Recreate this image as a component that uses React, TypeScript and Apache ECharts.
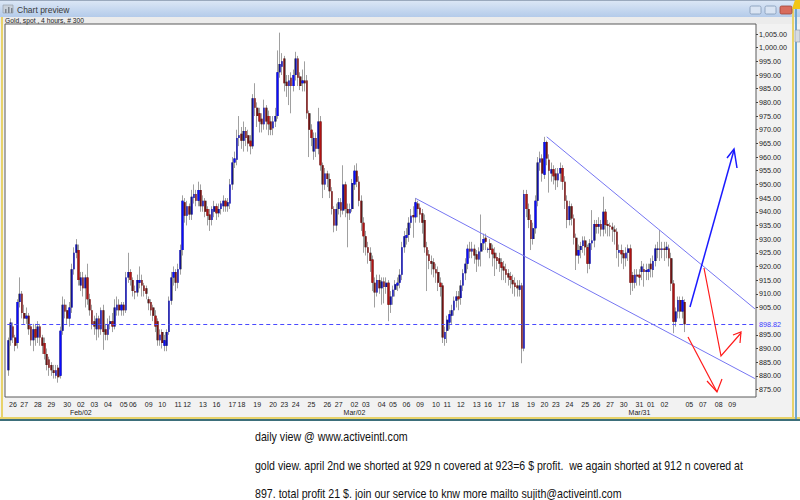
import React, { useEffect, useRef } from 'react';
import * as echarts from 'echarts';

// ---- Data (Gold spot, 4-hour bars) ----
const opens = [
  882, 893, 898, 894, 892, 907, 910, 903, 901, 902,
  898, 893, 897, 894, 898, 894, 892, 888, 886, 884,
  882, 880, 883, 880, 896.5, 906, 904, 901, 905, 919,
  925, 926, 913, 916, 912, 916, 908, 904, 900, 897,
  901, 897, 904, 897, 895, 899, 900, 898, 904, 906,
  904, 906, 904, 916, 918, 915, 911, 910.5, 914, 915,
  913, 912, 908, 907, 905, 902, 900, 893, 896, 891,
  891, 896, 907.5, 916, 918, 914, 919, 926, 943.5, 938.5,
  942, 939, 945, 946.5, 944, 948, 942, 944, 941, 939,
  937, 940, 942, 939.5, 941, 942, 944, 942, 943, 950,
  958, 959, 967, 968.5, 966, 969.5, 968, 966, 964, 981.5,
  978, 976, 974, 972, 978, 975, 973, 970.5, 973, 975,
  991, 993, 996, 987.5, 986, 989, 986, 990, 996, 989.5,
  987, 988, 988, 976, 970, 962, 967, 963, 973, 957,
  950, 954, 952, 947.5, 941, 935, 941, 943.5, 940.5, 950,
  941, 939.5, 941, 950, 955, 951, 944, 936, 931, 927,
  925, 922.5, 914, 910.5, 915, 912, 914.5, 912.5, 914, 906,
  909, 911.5, 913, 914, 917, 927, 930.5, 931.5, 936, 938.8,
  938, 943, 941.5, 939.5, 937, 927, 924.5, 922, 921.5, 919,
  918, 914, 913, 893.5, 896.5, 899.5, 902, 904, 907.5, 909,
  908.5, 913, 917.5, 921, 926.5, 925.5, 926.5, 924.5, 922.5, 925.5,
  928.5, 930.5, 926, 928.5, 926.5, 925, 923.5, 923, 921.5, 920,
  919, 917.5, 916.5, 915, 914, 913, 911.5, 913, 890, 946.5,
  941, 937, 930, 934, 944, 958, 959.5, 953.5, 965.5, 959,
  954, 955.5, 954, 951.5, 954, 956, 951, 944, 937, 942,
  937.5, 930.5, 924, 926, 927.5, 929.5, 927, 921, 928.5, 929.5,
  935.5, 934.5, 935.5, 933.5, 940, 935.5, 935, 934.5, 933.5, 932.7,
  925, 926, 924.8, 923, 925, 926.6, 916.9, 914, 917, 917,
  918, 919, 918, 918, 921, 918.7, 922, 926, 926.6, 926,
  926.6, 926, 926.6, 923, 913.8, 899.8, 903.5, 907.7, 903.5, 907,
];
const closes = [
  893, 899.5, 894, 891, 907, 910, 903, 901, 902, 897,
  893, 897, 894, 898, 894, 891, 888, 884, 883, 882,
  881, 882, 879.5, 896.5, 906, 903.5, 901, 905, 919, 925,
  928, 915, 916, 912, 916, 908, 904, 899, 898, 901,
  897, 904, 896, 895, 899, 900, 898, 905, 906, 904,
  906, 904, 916, 918, 915, 911, 910.5, 915, 915, 913,
  911, 910, 906.5, 904, 902, 898, 893, 895, 892, 893,
  896, 907.5, 916, 918, 914, 919, 926, 944, 938.5, 942,
  939, 945.5, 946.5, 944, 948, 942, 944, 940, 938.5, 937,
  941, 942, 939.5, 941, 943, 944, 942, 943.5, 950, 958,
  959.5, 967, 968, 966, 969.5, 967, 965, 964, 981.5, 978,
  975, 973, 972, 978, 973, 972, 970, 973, 975, 991,
  994, 995, 987, 986, 988, 986, 990, 996, 989, 986,
  988, 987, 976, 970, 967, 967, 963, 973, 957, 950,
  954, 952, 947.5, 941, 935, 941, 943.5, 940.5, 950, 941,
  939.5, 941, 950.5, 955, 951, 944, 936, 931, 927, 925,
  922, 914, 910.5, 915, 912, 914.5, 912.5, 914, 906, 909,
  911.5, 913.5, 914, 917, 927, 931, 931.5, 936, 938.5, 938,
  943.5, 941, 939, 936, 927, 924, 922, 921, 919, 917.5,
  914, 912.5, 894, 896, 900.5, 902.5, 904, 907.5, 909, 908,
  913, 917.5, 921, 926.5, 925.5, 926.5, 924, 922.5, 925.5, 928.5,
  930, 929, 926.5, 926, 924.5, 923, 922, 921, 919.5, 918.5,
  917, 916, 915, 913.5, 912.5, 912, 913, 890, 946.5, 941,
  937, 930, 934, 944, 958, 959.5, 954, 965.5, 959.5, 955,
  955.5, 953, 951.5, 954, 956, 951, 944, 937, 942, 937.5,
  930.5, 924, 926, 927.5, 929.5, 927, 921, 928.5, 929.5, 935.5,
  934.5, 935.5, 933.5, 940, 935.2, 934.8, 934.5, 933.5, 932.7, 926,
  926, 924.5, 923, 925, 926.6, 914, 914, 917, 916.3, 916,
  920, 918, 918.7, 919, 919, 922, 926.6, 926.6, 926, 926.6,
  926, 927.2, 923, 913.8, 899.8, 903.5, 907.7, 903.5, 907.7, 898.82,
];
const lows = [
  880, 891, 892, 889, 890, 905, 901, 899, 899, 895,
  891, 889, 891, 892, 891, 888, 886, 882, 880, 880,
  879, 879, 877.5, 879, 895, 901, 899, 898, 903, 917,
  923, 913, 911, 909, 905, 906, 902, 897, 895, 893,
  894, 895, 889.5, 893, 893, 897, 896, 897, 902, 902,
  902, 902, 903, 914, 913, 909, 908, 909, 912, 909,
  909, 908, 904, 902, 900, 896, 891, 891, 890, 889,
  889, 895, 906, 913, 911, 912, 917, 924, 936, 935,
  937, 937, 943, 942, 942, 940, 940, 938, 935, 933,
  935, 938, 937, 938, 939, 940, 940, 940, 941, 948,
  956, 957, 964, 963, 962, 964, 962, 961, 963, 975,
  971, 969, 969, 970, 970, 968, 968, 968, 971, 974,
  989, 990, 984, 982, 979, 976, 984, 988, 986, 984.5,
  984, 984, 974, 960, 964, 959, 960, 961, 955, 945,
  948, 949, 945, 939, 932.5, 933, 939, 938, 939, 938,
  927, 937, 940, 948, 949, 942, 933, 925, 924, 921,
  918, 911, 905, 909, 910, 906, 906.5, 910, 900, 903,
  906, 909, 911, 912, 915, 925, 928, 929, 934, 930.5,
  936, 938, 936, 932, 925, 911, 919, 917, 916, 914,
  911, 909, 892, 891, 892, 897, 899, 902, 905, 904,
  906, 911, 915, 919, 923, 923, 921, 918, 920, 920,
  926, 926, 925, 923, 920, 916.5, 919, 918, 915, 915,
  914, 913, 912, 910, 909, 909, 909, 884.6, 889, 938,
  934, 926, 928, 932, 942, 955, 951, 952, 957, 947,
  951, 950, 948, 949, 951, 948, 941, 934, 935, 935,
  928, 918.7, 921, 923, 925, 924, 917.5, 919, 926, 927,
  932, 932, 931, 931, 932, 931, 931, 929, 928, 923,
  919.9, 921, 919, 920, 922, 909.6, 911, 912, 913, 913,
  915, 912.6, 915, 915, 916, 916, 920, 923, 922, 923,
  922, 923, 920, 911, 895.6, 898, 901, 901, 901, 896,
];
const highs = [
  894, 901, 899.5, 895, 908, 916, 911, 906, 905, 903,
  899, 899, 899, 900, 899, 895, 894, 890, 887, 885,
  884, 884, 884, 898, 909, 908, 906, 907, 921, 927,
  930, 928, 918, 918, 917, 921, 910, 906, 902, 903,
  902, 905, 906, 899, 901, 902, 903, 908, 909, 908,
  907, 907, 918, 925, 919, 916, 913, 917, 920, 917,
  914, 913, 909, 908, 906, 904, 901, 897, 897, 895,
  897, 909, 918, 920, 919, 921, 928, 946, 945, 944,
  943, 948, 950, 948, 951, 950, 946, 945, 942, 941,
  942, 944, 943, 943, 944, 946, 945, 945, 952, 960,
  962, 970, 975, 971, 973, 971, 970, 968, 983, 987,
  980, 978, 976, 981, 979, 977, 975, 975, 978, 999,
  1005.5, 998, 997, 990, 990, 991, 992, 998.5, 997, 991,
  992, 995, 990, 977, 972, 969, 969, 978, 975, 958,
  956, 955, 954, 949, 942, 943, 945, 945, 957, 951,
  943, 943, 952, 957, 957.7, 953, 946, 938, 933, 929,
  927, 924, 916, 917, 917, 916, 916, 916, 915, 911,
  913, 915, 916, 919, 929, 933, 934, 938, 941, 942,
  945, 944, 943, 941, 939, 929, 926, 924, 923, 921,
  920, 916, 914, 898, 902, 904, 906, 909, 911, 911,
  915, 919, 923, 928, 929, 929, 928, 926, 927, 939,
  932, 932, 927, 930, 928, 927, 925, 925, 923, 922,
  921, 919, 918, 917, 916, 915, 915, 914, 948, 948,
  943, 939, 936, 946, 960, 962, 961, 967.4, 966, 961,
  958, 957, 956, 956, 958, 957, 953, 946, 944, 943,
  939, 932, 928, 929, 931, 931, 928, 930, 940.6, 937,
  937, 938, 937, 945.5, 941, 937, 936, 936, 935, 934,
  928, 928, 926, 927, 928, 928, 918, 919, 919, 919,
  922, 921, 921, 921, 923, 924, 928, 929, 933.3, 929,
  929, 929, 928, 925, 915, 905, 909, 909, 909, 908,
];

// bars of the session before the first labelled day
const leadBars = 2;
const dayNames = [
  '26', '27', '28', '29', '30', '02', '03', '04', '05', '06',
  '09', '10', '11', '12', '13', '16', '17', '18', '19', '20',
  '23', '24', '25', '26', '27', '02', '03', '04', '05', '06',
  '09', '10', '11', '12', '13', '16', '17', '18', '19', '20',
  '23', '24', '25', '26', '27', '30', '31', '01', '02', '05',
  '07', '08', '09',
];
const barsPerDay = [
  5, 6, 6, 7, 6, 6, 6, 7, 4, 7,
  6, 7, 4, 7, 6, 7, 4, 7, 7, 5,
  5, 7, 7, 5, 7, 5, 7, 5, 6, 6,
  7, 5, 6, 7, 5, 6, 6, 7, 6, 5,
  6, 7, 5, 6, 6, 7, 5, 6, 11, 6,
  7, 6, 11,
];
const monthMarks = [
  { day: 5, text: 'Feb/02' },
  { day: 25, text: 'Mar/02' },
  { day: 46, text: 'Mar/31' },
];
const yTicks = [
  875, 880, 885, 890, 895, 905, 910, 915, 920, 925, 930, 935, 940,
  945, 950, 955, 960, 965, 970, 975, 980, 985, 990, 995, 1000, 1005,
];
const lastPrice = 898.82;
// trend lines: [bar index, price] pairs
const trendLines = [
  [[180, 944.9], [330, 879.0]],
  [[238, 967.4], [330, 904.5]],
];

const titleText = 'Chart preview';
const subTitle = 'Gold, spot , 4 hours, # 300';
const noteLines = [
  'daily view @ www.activeintl.com',
  'gold view. april 2nd we shorted at 929 n covered at 923=6 $ profit.  we again shorted at 912 n covered at',
  '897. total profit 21 $. join our service to knw more mailto sujith@activeintl.com',
];

const FONT = '"Liberation Sans", Arial, sans-serif';

function measure(text: string, font: string): number {
  const c = document.createElement('canvas').getContext('2d');
  if (!c) return text.length * 6;
  c.font = font;
  return c.measureText(text).width;
}

export default function App() {
  const ref = useRef<HTMLDivElement>(null);

  useEffect(() => {
    if (!ref.current) return;
    const chart = echarts.init(ref.current, null, { renderer: 'svg' });

    const labels: string[] = [];
    const cats: string[] = [];
    for (let i = 0; i < leadBars; i++) labels.push('');
    dayNames.forEach((d, di) => {
      const mark = monthMarks.find((m) => m.day === di);
      for (let j = 0; j < barsPerDay[di]; j++) {
        labels.push(j === 0 ? (mark ? d + '\n' + mark.text : d) : '');
      }
    });
    labels.forEach((_, i) => cats.push(String(i + 1)));

    const ohlc = opens.map((o, i) => [o, closes[i], lows[i], highs[i]]);

    const noteFont = '12px "Liberation Sans"';
    const noteWidths = [153, 488, 367];
    const noteY = [437, 466, 494];
    const subFont = '7px "Liberation Sans"';
    const subW = measure(subTitle, subFont);

    const redStyle = { stroke: '#ff1a1a', lineWidth: 1.2, fill: 'none' };
    const blueStyle = { stroke: '#1a1aff', lineWidth: 1.5, fill: 'none' };

    const option: any = {
      animation: false,
      backgroundColor: '#f2f2f2',
      grid: { left: 7.26, top: 24, width: 748.74, height: 373, show: false },
      xAxis: {
        type: 'category',
        data: cats,
        boundaryGap: true,
        axisLine: { show: false },
        axisTick: { show: false },
        splitLine: { show: false },
        axisLabel: {
          interval: 0,
          formatter: (_v: string, i: number) => labels[i],
          fontSize: 7,
          lineHeight: 8,
          color: '#222',
          margin: 3,
          fontFamily: FONT,
        },
      },
      yAxis: {
        type: 'value',
        position: 'right',
        min: 872.26,
        max: 1008.66,
        scale: true,
        axisLine: { show: false },
        splitLine: { show: false },
        axisTick: {
          show: true,
          customValues: yTicks,
          length: 2,
          inside: false,
          lineStyle: { color: '#444' },
        },
        axisLabel: {
          customValues: yTicks,
          formatter: (v: number) =>
            v.toLocaleString('en-US', { minimumFractionDigits: 2, maximumFractionDigits: 2 }),
          fontSize: 7.2,
          color: '#222',
          margin: 3,
          fontFamily: FONT,
        },
      },
      series: [
        {
          // wicks
          type: 'candlestick',
          data: ohlc,
          barWidth: 1,
          silent: true,
          itemStyle: {
            color: '#a0a0a0',
            color0: '#a0a0a0',
            borderColor: '#a0a0a0',
            borderColor0: '#a0a0a0',
            borderWidth: 1,
          },
          z: 2,
        },
        {
          // body outline
          type: 'candlestick',
          data: ohlc,
          barWidth: 2.2,
          silent: true,
          itemStyle: { color: '#1a1a1a', color0: '#1a1a1a', borderWidth: 0 },
          z: 3,
        },
        {
          // body fill
          type: 'candlestick',
          data: ohlc,
          barWidth: 1.7,
          silent: true,
          itemStyle: { color: '#0a0aff', color0: '#b01212', borderWidth: 0 },
          z: 4,
          markLine: {
            silent: true,
            symbol: ['none', 'none'],
            animation: false,
            data: [
              {
                yAxis: lastPrice,
                lineStyle: { type: [4, 3], color: '#4a4aff', width: 1 },
                label: {
                  show: true,
                  position: 'end',
                  formatter: lastPrice.toFixed(2),
                  color: '#3a3aff',
                  fontSize: 7.2,
                  distance: 3,
                  fontFamily: FONT,
                },
              },
              ...trendLines.map((t) => [
                { coord: t[0], lineStyle: { type: 'solid', color: '#7676f2', width: 1 }, label: { show: false } },
                { coord: t[1] },
              ]),
            ],
          },
        },
      ],
      graphic: [
        // title bar
        {
          type: 'rect', silent: true, z: 0,
          shape: { x: 0, y: 0, width: 800, height: 17 },
          style: {
            fill: new echarts.graphic.LinearGradient(0, 0, 0, 1, [
              { offset: 0, color: '#dde8f6' },
              { offset: 1, color: '#b4cbea' },
            ]),
          },
        },
        { type: 'rect', silent: true, z: 0, shape: { x: 0, y: 0, width: 800, height: 1 }, style: { fill: '#9aa9bd' } },
        { type: 'rect', silent: true, z: 0, shape: { x: 3, y: 5, width: 10, height: 8 }, style: { fill: '#c9d1db', stroke: '#8d97a3', lineWidth: 0.6 } },
        { type: 'rect', silent: true, z: 0, shape: { x: 5, y: 9, width: 1.5, height: 4 }, style: { fill: '#7d8590' } },
        { type: 'rect', silent: true, z: 0, shape: { x: 8, y: 7, width: 1.5, height: 6 }, style: { fill: '#7d8590' } },
        { type: 'rect', silent: true, z: 0, shape: { x: 11, y: 8, width: 1.5, height: 5 }, style: { fill: '#7d8590' } },
        {
          type: 'text', silent: true, z: 1, x: 17, y: 9.5,
          style: { text: titleText, font: '8.5px ' + FONT, fill: '#3a3a3a', verticalAlign: 'middle' },
        },
        { type: 'rect', silent: true, z: 1, shape: { x: 750, y: 6, width: 11, height: 8, r: 1.5 }, style: { fill: '#d9e4f3', stroke: '#8197b5', lineWidth: 0.8 } },
        { type: 'rect', silent: true, z: 1, shape: { x: 765, y: 6, width: 11, height: 8, r: 1.5 }, style: { fill: '#d9e4f3', stroke: '#8197b5', lineWidth: 0.8 } },
        { type: 'rect', silent: true, z: 1, shape: { x: 780, y: 6, width: 12, height: 8, r: 1.5 }, style: { fill: '#d86c5e', stroke: '#a0453a', lineWidth: 0.8 } },
        { type: 'polygon', silent: true, z: 2, shape: { points: [[795, 0], [800, 0], [800, 9], [792, 9]] }, style: { fill: '#f2c515' } },
        // sub header strip
        { type: 'rect', silent: true, z: 0, shape: { x: 0, y: 17, width: 800, height: 7 }, style: { fill: '#ececec' } },
        {
          type: 'text', silent: true, z: 1, x: 5, y: 20.5,
          scaleX: subW > 0 ? 79 / subW : 1,
          style: { text: subTitle, font: subFont, fill: '#222', verticalAlign: 'middle' },
        },
        // plot frame
        {
          type: 'rect', silent: true, z: 0,
          shape: { x: 5, y: 24, width: 751, height: 373 },
          style: { fill: '#ffffff', stroke: '#5a5a5a', lineWidth: 1 },
        },
        // window edges
        { type: 'rect', silent: true, z: 0, shape: { x: 1, y: 17, width: 2, height: 402 }, style: { fill: '#e8d36a' } },
        { type: 'rect', silent: true, z: 0, shape: { x: 0, y: 417, width: 800, height: 2 }, style: { fill: '#e8d36a' } },
        { type: 'rect', silent: true, z: 0, shape: { x: 792, y: 9, width: 2, height: 410 }, style: { fill: '#e8d36a' } },
        { type: 'rect', silent: true, z: 0, shape: { x: 795, y: 9, width: 2, height: 410 }, style: { fill: '#6fa6cf' } },
        { type: 'rect', silent: true, z: 0, shape: { x: 795, y: 30, width: 5, height: 12 }, style: { fill: '#d6dbe2', stroke: '#8a96a6', lineWidth: 0.6 } },
        { type: 'rect', silent: true, z: 0, shape: { x: 0, y: 420, width: 800, height: 80 }, style: { fill: '#ffffff' } },
        { type: 'rect', silent: true, z: 0, shape: { x: 0, y: 419, width: 800, height: 2 }, style: { fill: '#3d6f7a' } },
        // hand-drawn projections
        { type: 'polyline', silent: true, z: 20, shape: { points: [[690, 307], [734, 150]] }, style: blueStyle },
        { type: 'polyline', silent: true, z: 20, shape: { points: [[727, 158], [734, 149], [737, 168]] }, style: blueStyle },
        { type: 'polyline', silent: true, z: 20, shape: { points: [[704, 268], [721, 356], [741, 333]] }, style: redStyle },
        { type: 'polyline', silent: true, z: 20, shape: { points: [[733, 335], [741, 332], [740, 343]] }, style: redStyle },
        { type: 'polyline', silent: true, z: 20, shape: { points: [[688, 337], [717, 392]] }, style: redStyle },
        { type: 'polyline', silent: true, z: 20, shape: { points: [[707, 381], [717, 392], [722, 379]] }, style: redStyle },
        // notes
        ...noteLines.map((t, i) => {
          const w = measure(t, noteFont);
          return {
            type: 'text', silent: true, z: 5, x: 255, y: noteY[i],
            scaleX: w > 0 ? noteWidths[i] / w : 1,
            style: { text: t, font: noteFont, fill: '#111', verticalAlign: 'middle' },
          };
        }),
      ],
    };

    chart.setOption(option);
    return () => chart.dispose();
  }, []);

  return (
    <div
      ref={ref}
      style={{ position: 'fixed', left: 0, top: 0, width: 800, height: 500 }}
    />
  );
}
